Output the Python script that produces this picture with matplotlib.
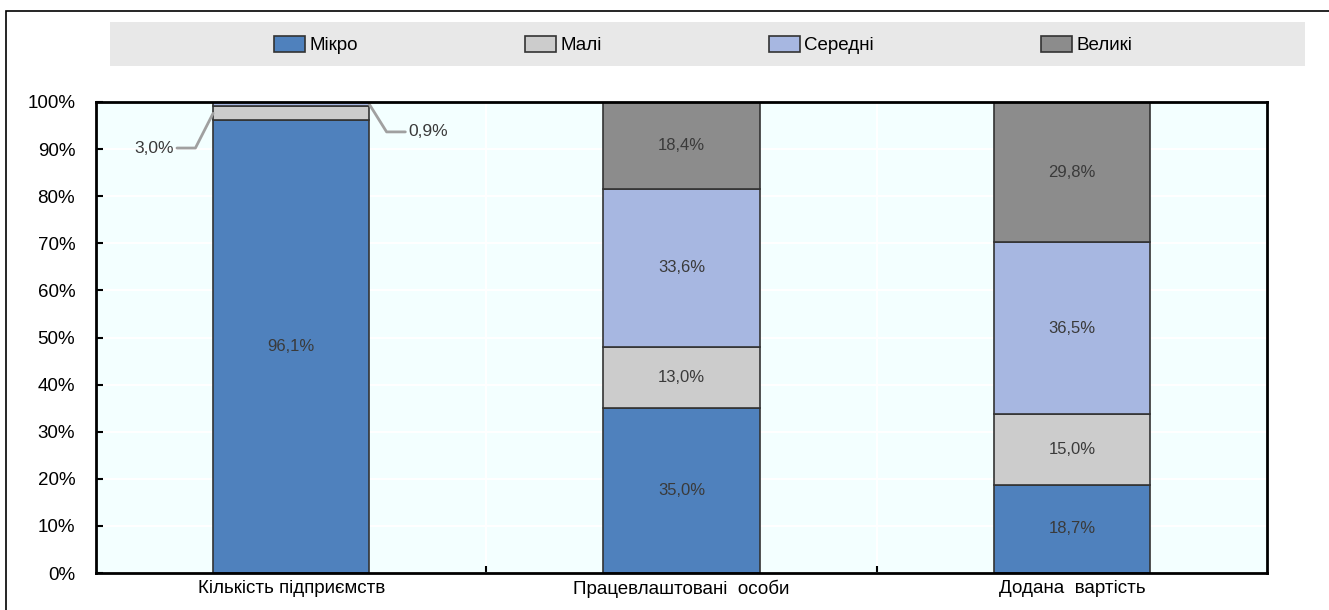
import matplotlib
matplotlib.use("Agg")
import matplotlib.pyplot as plt
from matplotlib.patches import Rectangle
from matplotlib import font_manager
import numpy as np

categories = ["Кількість підприємств", "Працевлаштовані  особи", "Додана  вартість"]
series_names = ["Мікро", "Малі", "Середні", "Великі"]
micro = [96.1, 35.0, 18.7]
mali = [3.0, 13.0, 15.0]
seredni = [0.9, 33.6, 36.5]
velyki = [0.0, 18.4, 29.8]
yticks = [0, 10, 20, 30, 40, 50, 60, 70, 80, 90, 100]

colors = ["#4F81BD", "#CCCCCC", "#A7B7E1", "#8C8C8C"]

names = {f.name for f in font_manager.fontManager.ttflist}
fam = "Liberation Sans Narrow" if "Liberation Sans Narrow" in names else "Liberation Sans"
plt.rcParams['font.family'] = [fam, 'DejaVu Sans']

W, H = 1329, 610
fig = plt.figure(figsize=(W / 100, H / 100), dpi=100)
ax = fig.add_axes([96 / W, 1 - 573 / H, (1267 - 96) / W, (573 - 102) / H])
ax.set_facecolor("#F3FFFF")

data = [micro, mali, seredni, velyki]
x = np.arange(len(categories))
bottom = np.zeros(len(categories))
bars = []
for vals, col, name in zip(data, colors, series_names):
    b = ax.bar(x, vals, width=0.4, bottom=bottom, color=col, edgecolor="#333333",
               linewidth=1.2, label=name, zorder=3)
    bars.append((b, np.array(vals), bottom.copy()))
    bottom = bottom + np.array(vals)

def fmt(v):
    return f"{v:.1f}%".replace(".", ",")

# in-bar labels
for (b, vals, bot) in bars:
    for i, v in enumerate(vals):
        if v >= 5:
            ax.text(x[i], bot[i] + v / 2, fmt(v), ha="center", va="center",
                    fontsize=12, color="#3A3A3A", zorder=4)

# small-segment labels with leader lines for first category
b_mali, v_mali, bot_mali = bars[1]
b_sered, v_sered, bot_sered = bars[2]
ax.annotate(fmt(v_mali[0]), xy=(x[0] - 0.2, bot_mali[0] + v_mali[0] / 2),
            xytext=(-28, -25), textcoords="offset points", ha="right", va="center",
            fontsize=12.5, color="#3A3A3A",
            arrowprops=dict(arrowstyle="-", color="#A0A0A0", lw=2,
                            connectionstyle="angle,angleA=0,angleB=63,rad=0",
                            shrinkA=0, shrinkB=0, relpos=(1, 0.5)),
            zorder=5, annotation_clip=False)
ax.annotate(fmt(v_sered[0]), xy=(x[0] + 0.2, bot_sered[0] + v_sered[0] / 2),
            xytext=(28, -20), textcoords="offset points", ha="left", va="center",
            fontsize=12.5, color="#3A3A3A",
            arrowprops=dict(arrowstyle="-", color="#A0A0A0", lw=2,
                            connectionstyle="angle,angleA=180,angleB=-58,rad=0",
                            shrinkA=0, shrinkB=0, relpos=(0, 0.5)),
            zorder=5, annotation_clip=False)

ax.set_xlim(-0.5, len(categories) - 0.5)
ax.set_ylim(0, 100)
ax.set_yticks(yticks)
ax.set_yticklabels([f"{t}%" for t in yticks])
ax.set_xticks(x)
ax.set_xticklabels(categories)
ax.set_xticks(x[:-1] + 0.5, minor=True)
ax.tick_params(axis="y", direction="in", length=5, width=1.5, labelsize=13.5, pad=15, colors="black")
ax.tick_params(axis="x", which="major", length=0, labelsize=13.5, pad=5)
ax.tick_params(axis="x", which="minor", direction="in", length=5, width=1.5)
ax.grid(axis="y", color="white", linewidth=1.5, zorder=0)
ax.grid(axis="x", which="minor", color="white", linewidth=1.5, zorder=0)
ax.set_axisbelow(True)
for s in ax.spines.values():
    s.set_linewidth(2)
    s.set_color("black")
    s.set_zorder(6)

# legend background band
fig.add_artist(Rectangle((110 / W, 1 - 66 / H), (1305 - 110) / W, 44 / H,
                         transform=fig.transFigure, facecolor="#E8E8E8", edgecolor="none", zorder=0))
handles = [Rectangle((0, 0), 1, 1, facecolor=c, edgecolor="#333333", linewidth=1.2) for c in colors]
leg = fig.legend(handles, series_names, loc="center", bbox_to_anchor=(703 / W, 1 - 45 / H),
                 ncol=4, frameon=False, fontsize=13.5, handlelength=1.65, handleheight=0.95,
                 handletextpad=0.25, columnspacing=8.9)

# outer frame
fig.add_artist(Rectangle((6 / W, -0.1), 1.2, 1 - 11 / H + 0.1, transform=fig.transFigure,
                         facecolor="none", edgecolor="black", linewidth=1.2, zorder=10))

fig.savefig("out.png", dpi=100)
